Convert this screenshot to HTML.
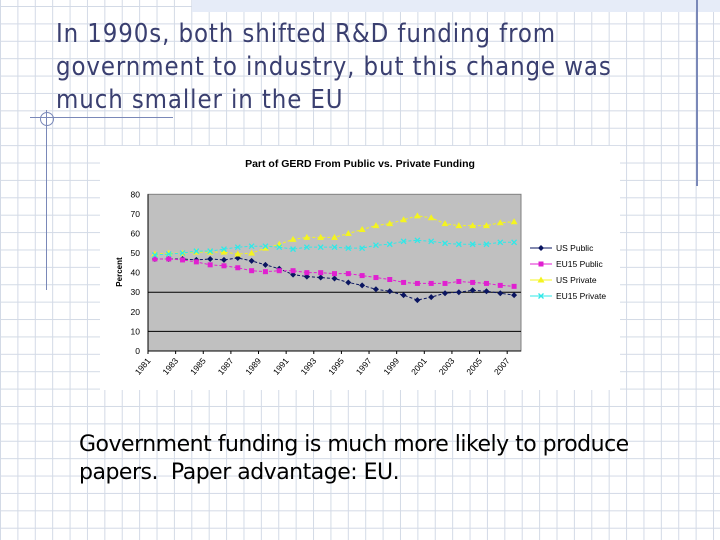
<!DOCTYPE html>
<html><head><meta charset="utf-8"><style>
body{margin:0;width:720px;height:540px;overflow:hidden;background:#fff;font-family:"Liberation Sans",sans-serif}
#bg{position:absolute;left:0;top:0;width:720px;height:540px;background-image:linear-gradient(#d3dae6 1px,transparent 1px),linear-gradient(90deg,#d3dae6 1px,transparent 1px);background-size:17.4px 17.4px;background-position:0 6px}
.t{position:absolute;color:#3a3f70;font-size:25.5px;line-height:33px;left:56px;top:18px;font-family:"DejaVu Sans Condensed","DejaVu Sans",sans-serif;letter-spacing:0.9px}
.b{position:absolute;left:79px;top:431px;font-size:22px;line-height:28px;color:#000;font-family:"DejaVu Sans",sans-serif;letter-spacing:-0.5px}
</style></head><body>
<div id="bg"></div>
<div style="position:absolute;left:192px;top:0;width:528px;height:12px;background:#e6ecf8"></div>
<div style="position:absolute;left:696px;top:0;width:2px;height:186px;background:#7a88b8"></div>
<div style="position:absolute;left:30px;top:117px;width:143px;height:1px;background:#7a88b8"></div>
<div style="position:absolute;left:46px;top:110px;width:1px;height:180px;background:#7a88b8"></div>
<div style="position:absolute;left:40px;top:112px;width:12px;height:12px;border:1px solid #7a88b8;border-radius:50%"></div>
<div class="t">In 1990s, both shifted R&amp;D funding from<br>government to industry, but this change was<br>much smaller in the EU</div>
<svg id="c" style="position:absolute;left:0;top:0" width="720" height="540"></svg>
<div class="b">Government funding is much more likely to produce<br>papers.&nbsp; Paper advantage: EU.</div>
<script>
const years=[1981,1982,1983,1984,1985,1986,1987,1988,1989,1990,1991,1992,1993,1994,1995,1996,1997,1998,1999,2000,2001,2002,2003,2004,2005,2006,2007];
const usPublic=[47,47,47,46.5,47,46.5,47.5,46,44,42,39,38,37.5,37,35,33.5,31.5,30.5,28.5,26,27.5,29.5,30,31,30.5,29.5,28.5];
const euPublic=[47,47,46.5,45.5,44,43.5,42.5,41,40.5,41,41,40,40,39.5,39.5,38.5,37.5,36.5,35,34.5,34.5,34.5,35.5,35,34.5,33.5,33];
const usPrivate=[49.5,50,50,50.5,50.5,50.5,49.5,50,52.5,54.5,57,58,58,58,60,62,64,65,67,69,68,65,64,64,64,65.5,66];
const euPrivate=[49,49.5,50,51,51,52,53,53.5,53.5,53,52,53,53,53,52.5,52.5,54,54.5,56,56.5,56,55,54.5,54.5,54.5,55.5,55.5];
const yTicks=[0,10,20,30,40,50,60,70,80];
const hLines=[10,30];
const series=[["US Public",usPublic,"#0a1560","d"],["EU15 Public",euPublic,"#e020d0","s"],["US Private",usPrivate,"#f4f420","t"],["EU15 Private",euPrivate,"#30e8e8","x"]];
const NS="http://www.w3.org/2000/svg",svg=document.getElementById('c');
const L=148,R=521,T=194.3,B=351,ymax=80;
const cw=(R-L)/years.length;
const xs=i=>L+cw*(i+0.5), ys=v=>B-(v/ymax)*(B-T);
function el(t,a,p){const e=document.createElementNS(NS,t);for(const k in a)e.setAttribute(k,a[k]);(p||svg).appendChild(e);return e;}
let e=el('rect',{x:100,y:146,width:520,height:244,fill:'#fff'});


e=el('text',{x:360,y:167,'text-anchor':'middle','font-size':'10.5','font-weight':'bold',fill:'#000'});e.textContent='Part of GERD From Public vs. Private Funding';


e=el('rect',{x:L,y:T,width:R-L,height:B-T,fill:'#c0c0c0',stroke:'#808080','stroke-width':1});


hLines.forEach(v=>{const g=el('line',{x1:L,x2:R,y1:ys(v),y2:ys(v),stroke:'#000','stroke-width':1});

});
el('line',{x1:L,x2:L,y1:T,y2:B,stroke:'#000'});el('line',{x1:L,x2:R,y1:B,y2:B,stroke:'#000'});
yTicks.forEach(v=>{const t=el('text',{x:L-8,y:ys(v)+3,'text-anchor':'end','font-size':'8.5',fill:'#000'});t.textContent=v;

});
e=el('text',{x:122,y:272,'text-anchor':'middle','font-size':'8','font-weight':'bold',transform:'rotate(-90 122 272)'});e.textContent='Percent';


years.forEach((y,i)=>{if(i%2)return;const x=L+cw*i;el('line',{x1:x,x2:x,y1:B,y2:B+3,stroke:'#000'});
const t=el('text',{x:x+3,y:B+10,'text-anchor':'end','font-size':'8.5',transform:`rotate(-50 ${x+3} ${B+10})`});t.textContent=y;

});
function marker(type,x,y,c,p){if(type=='d')return el('polygon',{points:`${x},${y-3} ${x+3},${y} ${x},${y+3} ${x-3},${y}`,fill:c},p);
if(type=='s')return el('rect',{x:x-2.5,y:y-2.5,width:5,height:5,fill:c},p);
if(type=='t')return el('polygon',{points:`${x},${y-3.5} ${x+3.5},${y+2.5} ${x-3.5},${y+2.5}`,fill:c},p);
const g=el('g',{},p);el('line',{x1:x-2.5,y1:y-2.5,x2:x+2.5,y2:y+2.5,stroke:c,'stroke-width':1.3},g);el('line',{x1:x-2.5,y1:y+2.5,x2:x+2.5,y2:y-2.5,stroke:c,'stroke-width':1.3},g);return g;}
series.forEach(([name,vals,c,m],k)=>{const g=el('g',{});


el('polyline',{points:vals.map((v,i)=>xs(i)+','+ys(v)).join(' '),fill:'none',stroke:c,'stroke-width':1,'stroke-dasharray':'3,2'},g);
vals.forEach((v,i)=>marker(m,xs(i),ys(v),c,g));
const ly=248+16*k,lg=el('g',{});


el('line',{x1:530,x2:552,y1:ly,y2:ly,stroke:c},lg);marker(m,541,ly,c,lg);
const t=el('text',{x:556,y:ly+3,'font-size':'8.5'},lg);t.textContent=name;});
</script>
</body></html>
